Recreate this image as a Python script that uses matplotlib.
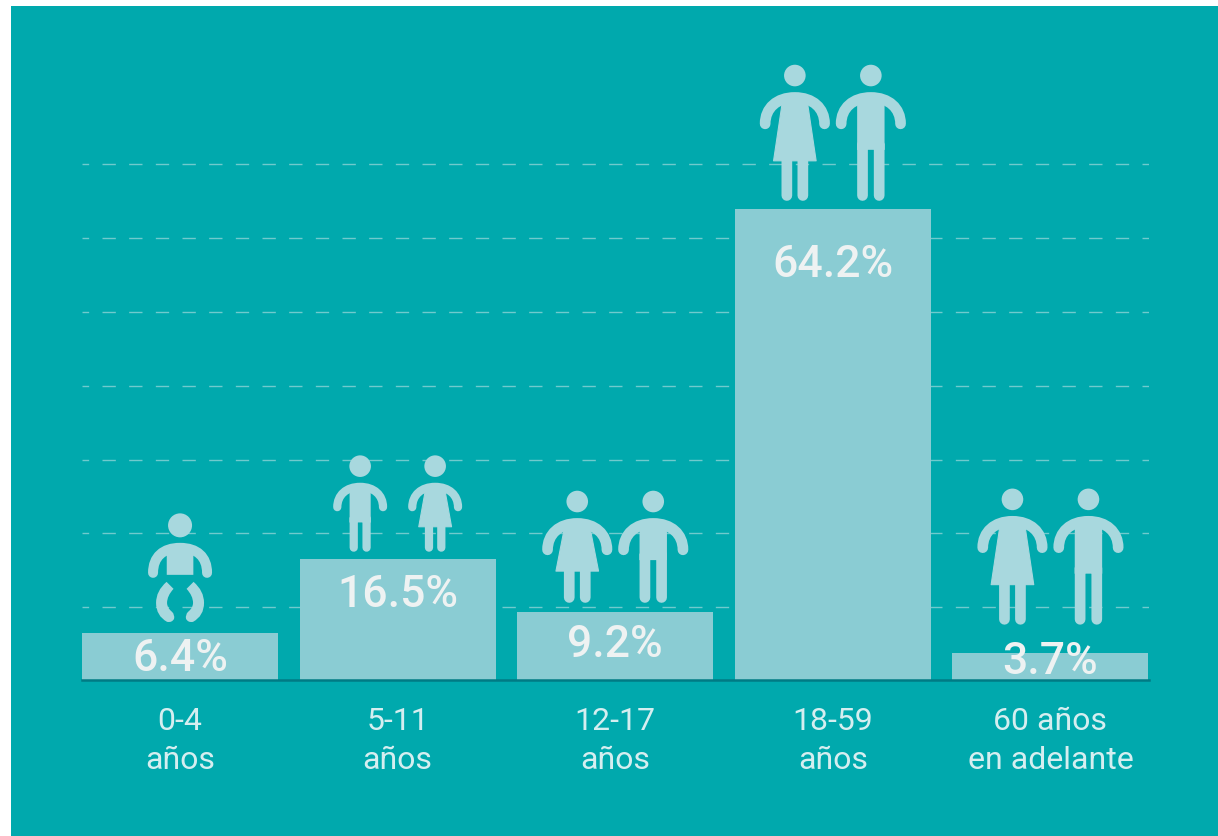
import matplotlib
matplotlib.use('Agg')
import matplotlib.pyplot as plt
from matplotlib.patches import Rectangle, Circle, PathPatch, Polygon
from matplotlib.path import Path
from matplotlib.transforms import IdentityTransform

W, H = 1218, 837
BG = '#00A9AD'
BAR = '#8ACCD3'
ICON = '#A8D8DE'
TEXT = '#EEF2F2'
TICK = '#D5EEF0'
GRID = '#70CACD'
BASE = '#007B84'

groups = ['0-4\naños', '5-11\naños', '12-17\naños', '18-59\naños', '60 años\nen adelante']
values = [6.4, 16.5, 9.2, 64.2, 3.7]
value_labels = ['6.4%', '16.5%', '9.2%', '64.2%', '3.7%']
grid_levels = [9.88, 19.96, 29.99, 40.08, 50.16, 60.18, 70.27]

# pixels below the bar top for the value text centre
label_offset = [25, 35, 32, 55, 8]
# pixels from the bar top up to the feet of the figures
feet_gap = [0, 7, 9.5, 8, 28]

plt.rcParams['font.family'] = ['Roboto', 'DejaVu Sans']
plt.rcParams['lines.scale_dashes'] = False

fig = plt.figure(figsize=(W / 100, H / 100), dpi=100, facecolor='white')
fig.add_artist(Rectangle((11 / W, 0), 1 - 11 / W, (H - 6.5) / H, transform=fig.transFigure,
                         facecolor=BG, edgecolor='none', zorder=-5))

px_per_unit = 7.336
top_px = 100
base_px = 680.8
ax = fig.add_axes([82 / W, (H - base_px) / H, (1148.5 - 82) / W, (base_px - top_px) / H])
ax.patch.set_visible(False)
ax.set_xlim(-0.4506, 4.4506)
ax.set_ylim(0, (base_px - top_px) / px_per_unit)

ax.bar(range(len(values)), values, width=0.901, color=BAR, zorder=2)

ax.set_yticks(grid_levels)
ax.set_yticklabels([])
ax.tick_params(axis='y', length=0)
ax.grid(axis='y', color=GRID, linewidth=1.0, linestyle=(4.8, (9.6, 9.6)), zorder=1)
ax.set_axisbelow(True)

ax.set_xticks(range(len(groups)))
ax.set_xticklabels(groups, fontsize=23, color=TICK, linespacing=1.41)
ax.tick_params(axis='x', length=0, pad=19)

for s in ['top', 'left', 'right']:
    ax.spines[s].set_visible(False)
ax.spines['bottom'].set_color(BASE)
ax.spines['bottom'].set_linewidth(1.8)
ax.spines['bottom'].set_zorder(4)

for i, v in enumerate(values):
    ax.annotate(value_labels[i], (i, v), xytext=(0, -label_offset[i] * 0.72),
                textcoords='offset points', ha='center', va='center',
                fontsize=32, fontweight='medium', color=TEXT, zorder=6, annotation_clip=False)


def add_shape(artist):
    artist.set_transform(IdentityTransform())
    artist.set_clip_on(False)
    artist.set_snap(False)
    artist.set_zorder(3)
    ax.add_artist(artist)


def stroke(verts, codes, lw):
    add_shape(PathPatch(Path(verts, codes), facecolor='none', edgecolor=ICON,
                        linewidth=lw * 0.72, capstyle='round', joinstyle='round'))


def figure(cx, feet, height, kind, s=1.0, skirt=68.7, crotch=57.7):
    # cx, feet in display pixels, y going up
    top = feet + height
    lw = 10.7 * s
    add_shape(Circle((cx, top + 16.6), 10.8, facecolor=ICON, edgecolor='none'))

    y_hand = top - 31.7 * s
    y_arm = top - lw / 2
    verts = [(cx - 29.7 * s, y_hand), (cx - 29.7 * s, top - 16 * s), (cx - 18 * s, y_arm), (cx, y_arm),
             (cx + 18 * s, y_arm), (cx + 29.7 * s, top - 16 * s), (cx + 29.7 * s, y_hand)]
    stroke(verts, [Path.MOVETO] + [Path.CURVE4] * 6, lw)

    if kind == 'm':
        hip = top - crotch
        add_shape(Rectangle((cx - 13.7 * s, hip), 27.4 * s, crotch - lw / 2,
                            facecolor=ICON, edgecolor='none'))
        leg = 8.33 * s
    else:
        hip = top - skirt
        add_shape(Polygon([(cx - 11.5 * s, top - 3 * s), (cx - 21.3 * s, hip), (cx + 21.3 * s, hip),
                           (cx + 11.5 * s, top - 3 * s)], closed=True, facecolor=ICON, edgecolor=ICON,
                          linewidth=0.8, joinstyle='round'))
        leg = 8 * s

    for sign in (-1, 1):
        x = cx + sign * leg
        stroke([(x, feet + lw / 2), (x, hip + lw / 2)], [Path.MOVETO, Path.LINETO], lw)
        add_shape(Rectangle((x - lw / 2, hip), lw, lw / 2 + 1, facecolor=ICON, edgecolor='none'))


def baby(cx, base):
    # base is the bar top in display pixels
    add_shape(Circle((cx, base + 107.5), 12, facecolor=ICON, edgecolor='none'))
    top = base + 90
    y_hand = base + 60
    y_arm = top - 5
    verts = [(cx - 27, y_hand), (cx - 27, base + 76), (cx - 17, y_arm), (cx, y_arm),
             (cx + 17, y_arm), (cx + 27, base + 76), (cx + 27, y_hand)]
    stroke(verts, [Path.MOVETO] + [Path.CURVE4] * 6, 10)
    add_shape(Rectangle((cx - 13.3, base + 58), 26.6, 27, facecolor=ICON, edgecolor='none'))
    for sign in (-1, 1):
        verts = [(cx + sign * 13.5, base + 51), (cx + sign * 24, base + 42), (cx + sign * 24, base + 30),
                 (cx + sign * 24, base + 17), (cx + sign * 13, base + 11), (cx + sign * 8, base + 10),
                 (cx + sign * 6, base + 14), (cx + sign * 5, base + 18), (cx + sign * 8, base + 21),
                 (cx + sign * 13, base + 25), (cx + sign * 13, base + 30), (cx + sign * 13, base + 37),
                 (cx + sign * 6.5, base + 44), (cx + sign * 13.5, base + 51)]
        codes = [Path.MOVETO] + [Path.CURVE3] * 12 + [Path.CLOSEPOLY]
        add_shape(PathPatch(Path(verts, codes), facecolor=ICON, edgecolor='none'))


anchors = [ax.transData.transform((i, v)) for i, v in enumerate(values)]

baby(anchors[0][0], anchors[0][1])

x, y = anchors[1]
figure(x - 37.5, y + feet_gap[1], 69, 'm', s=0.77, crotch=39.7)
figure(x + 37.5, y + feet_gap[1], 69, 'f', s=0.77, skirt=44)

x, y = anchors[2]
figure(x - 38, y + feet_gap[2], 84.7, 'f', skirt=53)
figure(x + 38, y + feet_gap[2], 84.7, 'm', crotch=42)

x, y = anchors[3]
figure(x - 38, y + feet_gap[3], 108.7, 'f')
figure(x + 38, y + feet_gap[3], 108.7, 'm')

x, y = anchors[4]
figure(x - 38, y + feet_gap[4], 108.7, 'f')
figure(x + 38, y + feet_gap[4], 108.7, 'm')

plt.savefig('out.png', dpi=100, facecolor='white')
